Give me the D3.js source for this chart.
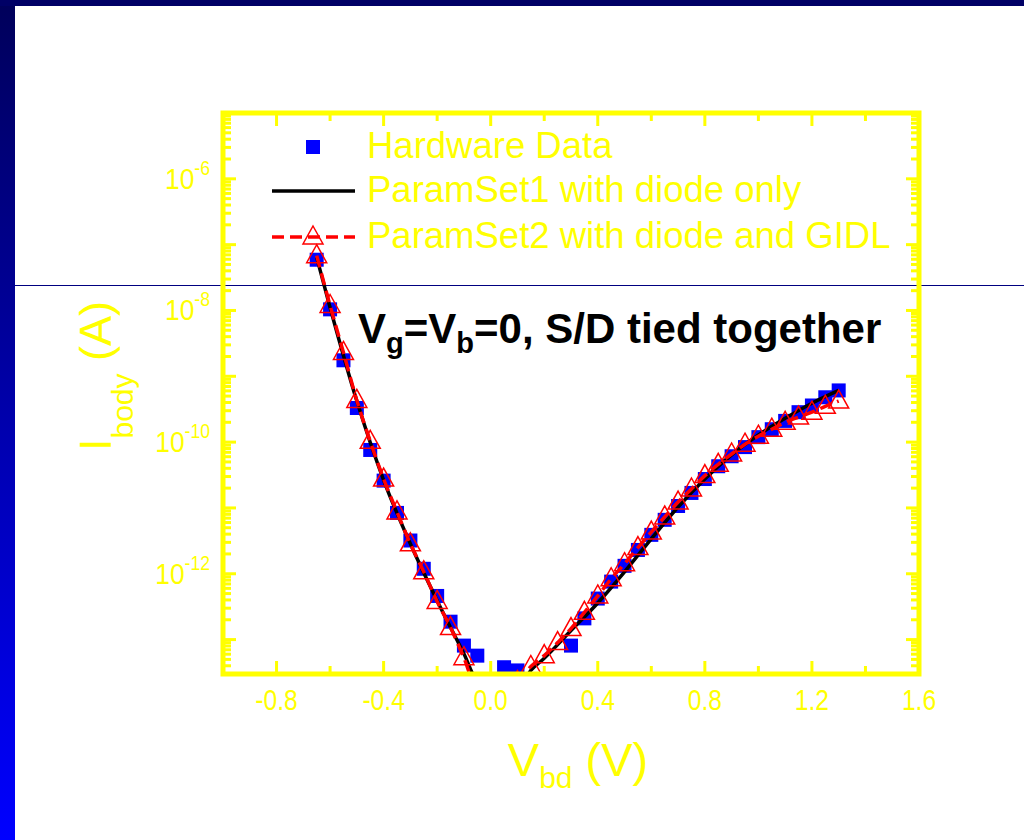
<!DOCTYPE html>
<html lang="en">
<head>
<meta charset="UTF-8">
<title>body current vs Vbd</title>
<script src="https://cdn.jsdelivr.net/npm/d3@7"></script>
<style>
    body{ margin:0; background:#fff; }
    svg text{ font-family: "Liberation Sans", Arial, sans-serif; }
</style>
</head>
<body>
<svg id="main" width="1024" height="840"></svg>
<script>
    // hardware data (blue squares)
    let hwV = [-0.65,-0.60,-0.55,-0.50,-0.45,-0.40,-0.35,-0.30,-0.25,-0.20,-0.15,-0.10,-0.05,0.05,0.10,
               0.30,0.35,0.40,0.45,0.50,0.55,0.60,0.65,0.70,0.75,0.80,0.85,0.90,0.95,1.00,1.05,1.10,1.15,1.20,1.25,1.30]
    let hwI = [5.9e-8,1.04e-8,1.75e-9,3.3e-10,7.6e-11,2.6e-11,8.4e-12,3.2e-12,1.19e-12,4.6e-13,1.87e-13,8.1e-14,5.7e-14,3.8e-14,3.4e-14,
               8.1e-14,2.1e-13,4.2e-13,7.6e-13,1.32e-12,2.3e-12,3.9e-12,6.6e-12,1.07e-11,1.69e-11,2.75e-11,4.3e-11,6.1e-11,8.4e-11,1.19e-10,1.57e-10,2.1e-10,2.85e-10,3.6e-10,4.8e-10,6.1e-10]

    // ParamSet1 with diode only (black line)
    let p1V = [-0.65,-0.60,-0.50,-0.40,-0.30,-0.20,-0.10,-0.05,0.10,0.15,0.20,0.30,0.40,0.50,0.60,0.70,0.80,0.90,1.00,1.10,1.20,1.30]
    let p1I = [6.4e-8,1.11e-8,4.2e-10,2.65e-11,2.85e-12,3.9e-13,6.1e-14,2.4e-14,1.8e-14,3.4e-14,5.2e-14,1.37e-13,3.6e-13,1.07e-12,3.4e-12,1.03e-11,2.75e-11,6.4e-11,1.28e-10,2.3e-10,3.9e-10,6.1e-10]

    // ParamSet2 with diode and GIDL (red dashed + triangles)
    let p2V = [-0.65,-0.60,-0.55,-0.50,-0.45,-0.40,-0.35,-0.30,-0.25,-0.20,-0.15,-0.10,-0.05,
               0.10,0.15,0.20,0.25,0.30,0.35,0.40,0.45,0.50,0.55,0.60,0.65,0.70,0.75,0.80,0.85,0.90,0.95,1.00,1.05,1.10,1.15,1.20,1.25,1.30]
    let p2I = [6.8e-8,1.19e-8,2.3e-9,4.3e-10,1.03e-10,2.75e-11,8.7e-12,2.85e-12,1.07e-12,3.8e-13,1.52e-13,5.3e-14,1.8e-14,
               2.3e-14,3.9e-14,5.7e-14,9.0e-14,1.47e-13,2.6e-13,4.6e-13,8.4e-13,1.42e-12,2.5e-12,4.3e-12,7.3e-12,1.23e-11,1.94e-11,3.1e-11,4.6e-11,6.6e-11,9.3e-11,1.23e-10,1.57e-10,2.0e-10,2.4e-10,2.85e-10,3.5e-10,4.2e-10]

    let xMajor = [-0.8,-0.4,0.0,0.4,0.8,1.2,1.6]
    let xMinor = [-0.6,-0.2,0.2,0.6,1.0,1.4]
    let yLabelExp = [-6,-8,-10,-12]
    let legendNames = ["Hardware Data","ParamSet1 with diode only","ParamSet2 with diode and GIDL"]

    let yellow = "#ffff00"
    let svg = d3.select("#main")

    // slide background
    let grad = svg.append("defs").append("linearGradient")
        .attr("id","side").attr("x1",0).attr("y1",0).attr("x2",0).attr("y2",1)
    grad.append("stop").attr("offset","0%").attr("stop-color","#00005a")
    grad.append("stop").attr("offset","100%").attr("stop-color","#0000ff")
    svg.append("rect").attr("x",0).attr("y",0).attr("width",15).attr("height",840).attr("fill","url(#side)")
    svg.append("rect").attr("x",0).attr("y",0).attr("width",1024).attr("height",6).attr("fill","#000066")
    svg.append("line").attr("x1",15).attr("x2",1024).attr("y1",285.5).attr("y2",285.5)
        .attr("stroke","#000080").attr("stroke-width",1)

    // scales
    let x = d3.scaleLinear().domain([-1.0,1.6]).range([223,919])
    let y = d3.scaleLog().domain([3e-14,1e-5]).range([674,113])

    svg.select("defs").append("clipPath").attr("id","plotclip")
        .append("rect").attr("x",223).attr("y",113).attr("width",696).attr("height",561)

    let plot = svg.append("g").attr("clip-path","url(#plotclip)")

    // hardware squares
    plot.selectAll(".hw").data(hwV).join("rect")
        .attr("x",(d,i) => x(d)-7).attr("y",(d,i) => y(hwI[i])-7)
        .attr("width",14).attr("height",14).attr("fill","#0000ff")

    let line1 = d3.line().x(d => x(d[0])).y(d => y(d[1])).curve(d3.curveMonotoneX)
    plot.append("path").datum(p1V.map((v,i) => [v,p1I[i]]))
        .attr("d",line1).attr("fill","none").attr("stroke","#000").attr("stroke-width",3.5)
    plot.append("path").datum(p2V.map((v,i) => [v,p2I[i]]))
        .attr("d",line1).attr("fill","none").attr("stroke","#ff0000").attr("stroke-width",3.5)
        .attr("stroke-dasharray","12,6")

    let tri = "M0,-11L10,7L-10,7Z"
    plot.selectAll(".tri").data(p2V).join("path")
        .attr("transform",(d,i) => `translate(${x(d)},${y(p2I[i])})`)
        .attr("d",tri).attr("fill","none").attr("stroke","#ff0000").attr("stroke-width",1.5)

    // frame and ticks
    let ax = svg.append("g").attr("stroke",yellow).attr("stroke-width",3)
    xMajor.concat(xMinor).forEach(function(v){
        let len = xMajor.includes(v) ? 13 : 8
        ax.append("line").attr("x1",x(v)).attr("x2",x(v)).attr("y1",674).attr("y2",674-len)
        ax.append("line").attr("x1",x(v)).attr("x2",x(v)).attr("y1",113).attr("y2",113+len)
    })
    let yTicks = []
    for(let e=-14;e<=-6;e++){
        for(let m=1;m<=9;m++){
            let val = m*Math.pow(10,e)
            if(val>=3e-14 && val<=1e-5) yTicks.push([val,m==1])
        }
    }
    yTicks.push([1e-5,true])
    yTicks.forEach(function(t){
        let len = t[1] ? 13 : 8
        ax.append("line").attr("x1",223).attr("x2",223+len).attr("y1",y(t[0])).attr("y2",y(t[0]))
        ax.append("line").attr("x1",919).attr("x2",919-len).attr("y1",y(t[0])).attr("y2",y(t[0]))
    })
    svg.append("rect").attr("x",223).attr("y",113).attr("width",696).attr("height",561)
        .attr("fill","none").attr("stroke",yellow).attr("stroke-width",5)

    // tick labels
    svg.selectAll(".xlab").data(xMajor).join("text")
        .attr("transform",d => `translate(${x(d)},710) scale(0.82,1)`)
        .attr("text-anchor","middle").attr("font-size",30).attr("fill",yellow)
        .text(d => d.toFixed(1))

    let ylab = svg.selectAll(".ylab").data(yLabelExp).join("text")
        .attr("transform",d => `translate(210,${y(Math.pow(10,d))+10}) scale(0.88,1)`)
        .attr("text-anchor","end").attr("fill",yellow).attr("font-size",30)
    ylab.append("tspan").text("10")
    ylab.append("tspan").attr("font-size",20).attr("dy",-14).text(d => d)

    // axis titles
    let yt = svg.append("text").attr("transform","translate(111,376) rotate(-90)")
        .attr("text-anchor","middle").attr("fill",yellow).attr("font-size",45)
    yt.append("tspan").text("I")
    yt.append("tspan").attr("font-size",30).attr("dy",22).text("body")
    yt.append("tspan").attr("dy",-22).text(" (A)")

    let xt = svg.append("text").attr("x",578).attr("y",776)
        .attr("text-anchor","middle").attr("fill",yellow).attr("font-size",47)
    xt.append("tspan").text("V")
    xt.append("tspan").attr("font-size",30).attr("dy",12).text("bd")
    xt.append("tspan").attr("dy",-12).text(" (V)")

    // annotation
    let an = svg.append("text").attr("x",358).attr("y",343)
        .attr("font-size",42).attr("font-weight","bold").attr("fill","#000")
    an.append("tspan").text("V")
    an.append("tspan").attr("font-size",29).attr("dy",10).text("g")
    an.append("tspan").attr("dy",-10).text("=V")
    an.append("tspan").attr("font-size",29).attr("dy",10).text("b")
    an.append("tspan").attr("dy",-10).text("=0, S/D tied together")

    // legend
    let legY = [147,191,237]
    svg.append("rect").attr("x",306).attr("y",legY[0]-7).attr("width",14).attr("height",14).attr("fill","#0000ff")
    svg.append("line").attr("x1",272).attr("x2",355).attr("y1",legY[1]).attr("y2",legY[1])
        .attr("stroke","#000").attr("stroke-width",3.5)
    svg.append("line").attr("x1",272).attr("x2",355).attr("y1",legY[2]).attr("y2",legY[2])
        .attr("stroke","#ff0000").attr("stroke-width",3.5).attr("stroke-dasharray","12,6")
    svg.append("path").attr("transform",`translate(313,${legY[2]})`).attr("d",tri)
        .attr("fill","none").attr("stroke","#ff0000").attr("stroke-width",1.5)
    svg.selectAll(".leg").data(legendNames).join("text")
        .attr("x",367).attr("y",(d,i) => legY[i]+11)
        .attr("font-size",36.5).attr("fill",yellow).text(d => d)
</script>
</body>
</html>
